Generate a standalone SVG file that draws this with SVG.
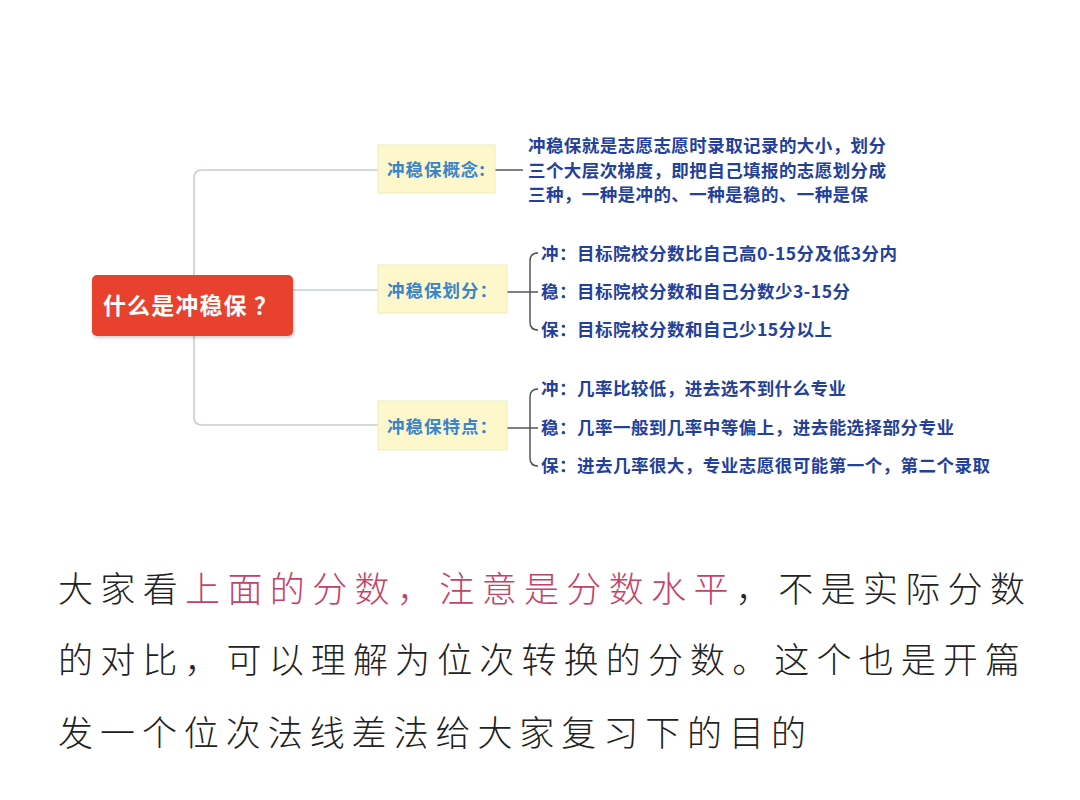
<svg xmlns="http://www.w3.org/2000/svg" width="1080" height="800" viewBox="0 0 1080 800">
<defs>
<style>
.tree{fill:none;stroke:#c6d0ca;stroke-width:1.6}
.lk{fill:none;stroke:#4a4a4a;stroke-width:1.4}
.br{fill:#fcf8cc;stroke:#f0ebb8;stroke-width:1}
.brt{font-family:"Noto Sans CJK SC","Noto Sans",sans-serif;font-size:17.5px;font-weight:700;fill:#3b84c9}
.leaf{font-family:"Noto Sans CJK SC","Noto Sans",sans-serif;font-size:17.5px;font-weight:700;fill:#23409a}
.hw{font-family:"Noto Sans CJK SC",sans-serif;font-size:35px;font-weight:300;fill:#222}
.red{fill:#c4426a}
</style>
<filter id="sh" x="-10%" y="-10%" width="130%" height="140%"><feDropShadow dx="1" dy="2" stdDeviation="1.5" flood-color="#000" flood-opacity="0.18"/></filter>
</defs>
<rect width="1080" height="800" fill="#ffffff"/>
<g id="connectors">
<path class="tree" d="M378 170 H202 Q194 170 194 178 V417 Q194 425 202 425 H378"/>
<path class="tree" d="M293 290 H378"/>
<path class="lk" d="M495 170 H523"/>
<path class="lk" d="M507 292 H538"/>
<path class="lk" d="M538 253 Q530 253 530 261 V322 Q530 330 538 330"/>
<path class="lk" d="M507 428 H538"/>
<path class="lk" d="M538 389 Q530 389 530 397 V458 Q530 466 538 466"/>
</g>
<g id="root">
<rect x="92" y="275" width="201" height="61" rx="5" fill="#e8432f" filter="url(#sh)"/>
<text x="103" y="314" textLength="174" lengthAdjust="spacing" font-family="'Noto Sans CJK SC',sans-serif" font-size="23" font-weight="700" fill="#ffffff">什么是冲稳保 ？</text>
</g>
<g id="node-concept">
<rect class="br" x="378" y="145" width="117" height="48"/>
<text class="brt" x="387" y="176" textLength="98" lengthAdjust="spacing">冲稳保概念:</text>
</g>
<g id="node-division">
<rect class="br" x="378" y="265" width="129" height="48"/>
<text class="brt" x="387" y="297" textLength="110" lengthAdjust="spacing">冲稳保划分：</text>
</g>
<g id="node-feature">
<rect class="br" x="378" y="401" width="129" height="49"/>
<text class="brt" x="387" y="433" textLength="110" lengthAdjust="spacing">冲稳保特点：</text>
</g>
<g id="leaf-concept">
<text class="leaf" x="528" y="152" textLength="358" lengthAdjust="spacing">冲稳保就是志愿志愿时录取记录的大小，划分</text>
<text class="leaf" x="528" y="177" textLength="358" lengthAdjust="spacing">三个大层次梯度，即把自己填报的志愿划分成</text>
<text class="leaf" x="528" y="201" textLength="340" lengthAdjust="spacing">三种，一种是冲的、一种是稳的、一种是保</text>
</g>
<g id="leaf-division">
<text class="leaf" x="541" y="260" textLength="356" lengthAdjust="spacing">冲：目标院校分数比自己高0-15分及低3分内</text>
<text class="leaf" x="541" y="298" textLength="309" lengthAdjust="spacing">稳：目标院校分数和自己分数少3-15分</text>
<text class="leaf" x="541" y="336" textLength="291" lengthAdjust="spacing">保：目标院校分数和自己少15分以上</text>
</g>
<g id="leaf-feature">
<text class="leaf" x="541" y="395" textLength="305" lengthAdjust="spacing">冲：几率比较低，进去选不到什么专业</text>
<text class="leaf" x="541" y="434" textLength="413" lengthAdjust="spacing">稳：几率一般到几率中等偏上，进去能选择部分专业</text>
<text class="leaf" x="541" y="472" textLength="449" lengthAdjust="spacing">保：进去几率很大，专业志愿很可能第一个，第二个录取</text>
</g>
<g id="note">
<text class="hw" x="58" y="602" textLength="967" lengthAdjust="spacing">大家看<tspan class="red">上面的分数，注意是分数水平</tspan>，不是实际分数</text>
<text class="hw" x="58" y="673" textLength="962" lengthAdjust="spacing">的对比，可以理解为位次转换的分数。这个也是开篇</text>
<text class="hw" x="58" y="746" textLength="748" lengthAdjust="spacing">发一个位次法线差法给大家复习下的目的</text>
</g>
</svg>
